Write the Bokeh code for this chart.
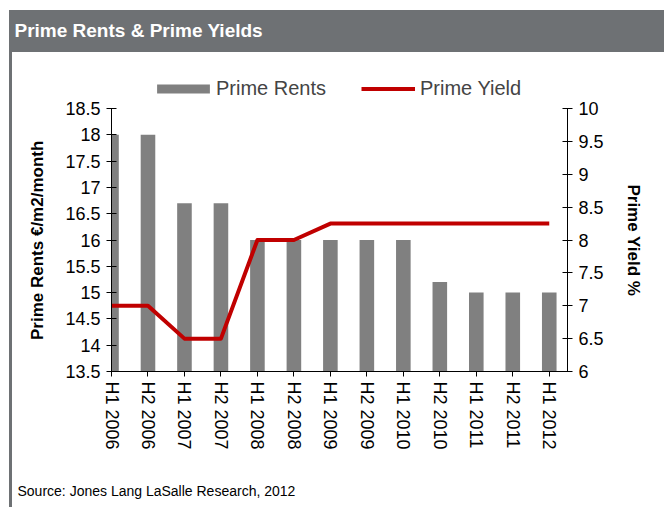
import math
from bokeh.plotting import figure
from bokeh.models import (Range1d, LinearAxis, FixedTicker, Legend, LegendItem, Title)
from bokeh.embed import file_html
from bokeh.resources import INLINE

# ---- data ----
categories = ["H1 2006", "H2 2006", "H1 2007", "H2 2007", "H1 2008", "H2 2008",
              "H1 2009", "H2 2009", "H1 2010", "H2 2010", "H1 2011", "H2 2011", "H1 2012"]
prime_rents = [18, 18, 16.7, 16.7, 16, 16, 16, 16, 16, 15.2, 15, 15, 15]
prime_yield = [7, 7, 6.5, 6.5, 8, 8, 8.25, 8.25, 8.25, 8.25, 8.25, 8.25, 8.25]
rent_ticks = [13.5, 14, 14.5, 15, 15.5, 16, 16.5, 17, 17.5, 18, 18.5]
rent_tick_labels = ["13.5", "14", "14.5", "15", "15.5", "16", "16.5", "17", "17.5", "18", "18.5"]
yield_ticks = [6, 6.5, 7, 7.5, 8, 8.5, 9, 9.5, 10]
yield_tick_labels = ["6", "6.5", "7", "7.5", "8", "8.5", "9", "9.5", "10"]
title_text = "Prime Rents & Prime Yields"
source_text = "Source: Jones Lang LaSalle Research, 2012"
left_axis_title = "Prime Rents €/m2/month"
right_axis_title = "Prime Yield %"

FONT = "Liberation Sans"
BAR = "#808080"
RED = "#c00000"
FRAME_GRAY = "#6e7174"
NBSP = "\u00a0"

idx = list(range(len(categories)))

# plot area: axes occupy 263 px, plus 56 px headroom above them for the legend
AXIS_PX, HEAD_PX = 263, 56
ext = (AXIS_PX + HEAD_PX) / AXIS_PX
rent_lo, rent_hi = rent_ticks[0], rent_ticks[-1]
yld_lo, yld_hi = yield_ticks[0], yield_ticks[-1]

p = figure(output_backend="svg", toolbar_location=None,
           width=664, height=507,
           x_range=Range1d(0, len(categories) - 0.5),
           y_range=Range1d(rent_lo, rent_lo + (rent_hi - rent_lo) * ext),
           min_border_left=111, min_border_right=97,
           min_border_top=52, min_border_bottom=136,
           title=None)
p.extra_y_ranges = {"yield": Range1d(yld_lo, yld_lo + (yld_hi - yld_lo) * ext)}
p.outline_line_color = None
p.grid.visible = False
p.border_fill_color = None
p.background_fill_color = "white"
# grey header band and left rule of the original panel (CSS background of the plot box)
p.styles = {
    "background": ("linear-gradient(%s, %s) 9px 10px / 655px 42px no-repeat, "
                   "linear-gradient(%s, %s) 9px 52px / 3px 455px no-repeat, white")
                  % (FRAME_GRAY, FRAME_GRAY, FRAME_GRAY, FRAME_GRAY)
}

bars = p.vbar(x=idx, top=prime_rents, bottom=rent_lo, width=0.4,
              fill_color=BAR, line_color=None)
line = p.line(x=idx, y=prime_yield, y_range_name="yield",
              line_color=RED, line_width=4, line_join="round")

# x axis
xa = p.xaxis[0]
xa.ticker = FixedTicker(ticks=idx)
xa.major_label_overrides = {i: c for i, c in zip(idx, categories)}
xa.major_label_orientation = -math.pi / 2
xa.major_tick_in = 0
xa.major_tick_out = 5
xa.minor_tick_line_color = None
xa.major_label_text_font = FONT
xa.major_label_text_font_size = "18px"
xa.major_label_text_color = "black"
xa.major_label_standoff = 5
xa.axis_line_color = "black"

# left axis (label padded so it centres on the 13.5-18.5 span, not the taller frame)
ya = p.yaxis[0]
ya.ticker = FixedTicker(ticks=rent_ticks)
ya.bounds = (rent_lo, rent_hi)
ya.major_label_overrides = {t: l for t, l in zip(rent_ticks, rent_tick_labels)}
ya.axis_label = left_axis_title + NBSP * 12
ya.axis_label_standoff = 15

# right axis
ra = LinearAxis(y_range_name="yield", ticker=FixedTicker(ticks=yield_ticks),
                axis_label=NBSP * 12 + right_axis_title, bounds=(yld_lo, yld_hi))
ra.major_label_overrides = {t: l for t, l in zip(yield_ticks, yield_tick_labels)}
ra.axis_label_standoff = 17
p.add_layout(ra, "right")

for ax in (ya, ra):
    ax.major_tick_in = 5
    ax.major_tick_out = 5
    ax.minor_tick_line_color = None
    ax.major_label_text_font = FONT
    ax.major_label_text_font_size = "18px"
    ax.major_label_text_color = "black"
    ax.major_label_standoff = 6
    ax.axis_label_text_font = FONT
    ax.axis_label_text_font_size = "17px"
    ax.axis_label_text_font_style = "bold"
    ax.axis_label_text_color = "black"
    ax.axis_line_color = "black"

legend_style = dict(orientation="horizontal", padding=0, margin=0, spacing=0,
                    border_line_color=None, background_fill_alpha=0,
                    label_text_font=FONT, label_text_font_size="20px")
leg1 = Legend(items=[LegendItem(label="Prime Rents", renderers=[bars])],
              location=(39, 271), glyph_width=66, glyph_height=11,
              label_standoff=0, **legend_style)
leg2 = Legend(items=[LegendItem(label="Prime Yield", renderers=[line])],
              location=(250, 271), glyph_width=54, glyph_height=11,
              label_standoff=5, **legend_style)
p.add_layout(leg1, "center")
p.add_layout(leg2, "center")

p.add_layout(Title(text=title_text, align="left", offset=-97, standoff=23,
                   text_font=FONT, text_font_size="19px", text_font_style="bold",
                   text_color="white"), "above")
p.add_layout(Title(text="\n" + source_text, align="left", offset=-94, standoff=4,
                   text_font=FONT, text_font_size="14px", text_font_style="normal",
                   text_line_height=1.7, text_color="black"), "below")

open("out.html", "w").write(file_html(p, INLINE))
